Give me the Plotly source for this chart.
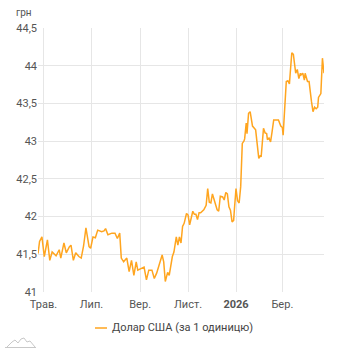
import plotly.graph_objects as go

# ---- data ----
dates_apr25 = ["2025-04-24", "2025-04-26", "2025-04-29"]
vals_apr25 = [41.51, 41.67, 41.73]
dates_may = ["2025-05-02", "2025-05-06", "2025-05-09", "2025-05-12", "2025-05-17", "2025-05-21", "2025-05-23", "2025-05-27", "2025-05-30"]
vals_may = [41.47, 41.69, 41.42, 41.53, 41.48, 41.56, 41.45, 41.65, 41.52]
dates_jun = ["2025-06-03", "2025-06-05", "2025-06-08", "2025-06-11", "2025-06-15", "2025-06-18", "2025-06-21", "2025-06-24", "2025-06-28", "2025-06-30"]
vals_jun = [41.60, 41.62, 41.42, 41.52, 41.47, 41.45, 41.61, 41.85, 41.60, 41.58]
dates_jul = ["2025-07-03", "2025-07-06", "2025-07-09", "2025-07-14", "2025-07-17", "2025-07-19", "2025-07-22", "2025-07-27", "2025-07-31"]
vals_jul = [41.73, 41.72, 41.82, 41.80, 41.81, 41.84, 41.76, 41.78, 41.78]
dates_aug = ["2025-08-03", "2025-08-06", "2025-08-08", "2025-08-11", "2025-08-15", "2025-08-18", "2025-08-21", "2025-08-24", "2025-08-27", "2025-08-29"]
vals_aug = [41.71, 41.78, 41.45, 41.40, 41.45, 41.27, 41.42, 41.22, 41.40, 41.29]
dates_sep = ["2025-09-03", "2025-09-06", "2025-09-09", "2025-09-12", "2025-09-16", "2025-09-19", "2025-09-22", "2025-09-26", "2025-09-29"]
vals_sep = [41.31, 41.33, 41.16, 41.29, 41.29, 41.18, 41.25, 41.38, 41.49]
dates_oct = ["2025-10-01", "2025-10-03", "2025-10-06", "2025-10-08", "2025-10-12", "2025-10-14", "2025-10-17", "2025-10-19", "2025-10-21", "2025-10-23", "2025-10-25", "2025-10-27", "2025-10-30"]
vals_oct = [41.40, 41.14, 41.26, 41.22, 41.47, 41.53, 41.73, 41.62, 41.73, 41.65, 41.87, 41.91, 42.04]
dates_nov = ["2025-11-01", "2025-11-03", "2025-11-05", "2025-11-07", "2025-11-09", "2025-11-11", "2025-11-13", "2025-11-15", "2025-11-17", "2025-11-19", "2025-11-21", "2025-11-24", "2025-11-26", "2025-11-28", "2025-11-30"]
vals_nov = [42.02, 41.89, 41.98, 42.07, 42.03, 42.03, 41.96, 42.05, 42.05, 42.07, 42.09, 42.15, 42.37, 42.19, 42.18]
dates_dec = ["2025-12-02", "2025-12-04", "2025-12-06", "2025-12-08", "2025-12-10", "2025-12-12", "2025-12-15", "2025-12-17", "2025-12-19", "2025-12-21", "2025-12-23", "2025-12-25", "2025-12-27", "2025-12-29", "2025-12-30"]
vals_dec = [42.30, 42.24, 42.18, 42.09, 42.07, 42.27, 42.26, 42.22, 42.32, 42.30, 42.13, 42.08, 41.93, 41.95, 42.10]
dates_jan = ["2026-01-01", "2026-01-03", "2026-01-05", "2026-01-07", "2026-01-08", "2026-01-09", "2026-01-11", "2026-01-12", "2026-01-14", "2026-01-15", "2026-01-17", "2026-01-19", "2026-01-22", "2026-01-24", "2026-01-26", "2026-01-28", "2026-01-30"]
vals_jan = [42.37, 42.21, 42.18, 42.40, 42.64, 42.97, 43.00, 43.03, 43.24, 43.10, 43.37, 43.39, 43.20, 43.17, 43.15, 42.96, 42.77]
dates_feb = ["2026-02-01", "2026-02-02", "2026-02-05", "2026-02-07", "2026-02-09", "2026-02-10", "2026-02-12", "2026-02-14", "2026-02-16", "2026-02-18", "2026-02-21", "2026-02-24", "2026-02-27"]
vals_feb = [42.81, 42.79, 43.17, 43.11, 43.10, 43.02, 43.04, 42.99, 43.13, 43.28, 43.28, 43.28, 43.20]
dates_mar = ["2026-03-01", "2026-03-02", "2026-03-04", "2026-03-06", "2026-03-08", "2026-03-10", "2026-03-11", "2026-03-13", "2026-03-15", "2026-03-17", "2026-03-18", "2026-03-20", "2026-03-22", "2026-03-24", "2026-03-25", "2026-03-27", "2026-03-29", "2026-03-30"]
vals_mar = [43.18, 43.08, 43.41, 43.79, 43.80, 43.76, 43.90, 44.17, 44.15, 44.01, 43.90, 43.95, 43.83, 43.90, 43.88, 43.90, 43.81, 43.90]
dates_apr26 = ["2026-04-02", "2026-04-04", "2026-04-05", "2026-04-07", "2026-04-09", "2026-04-11", "2026-04-13", "2026-04-15", "2026-04-16", "2026-04-19", "2026-04-21", "2026-04-22", "2026-04-23"]
vals_apr26 = [43.79, 43.79, 43.68, 43.53, 43.39, 43.45, 43.43, 43.45, 43.58, 43.63, 44.10, 43.99, 43.90]

dates = (dates_apr25 + dates_may + dates_jun + dates_jul + dates_aug + dates_sep + dates_oct
         + dates_nov + dates_dec + dates_jan + dates_feb + dates_mar + dates_apr26)
usd_uah = (vals_apr25 + vals_may + vals_jun + vals_jul + vals_aug + vals_sep + vals_oct
           + vals_nov + vals_dec + vals_jan + vals_feb + vals_mar + vals_apr26)

series_name = "Долар США (за 1 одиницю)"
x_tick_vals = ["2025-05-01", "2025-07-01", "2025-09-01", "2025-11-01", "2026-01-01", "2026-03-01"]
x_tick_text = ["Трав.", "Лип.", "Вер.", "Лист.", "<b>2026</b>", "Бер."]
y_tick_vals = [41, 41.5, 42, 42.5, 43, 43.5, 44, 44.5]
y_tick_text = ["41", "41,5", "42", "42,5", "43", "43,5", "44", "44,5"]
y_unit = "грн"

# ---- layout geometry ----
W, H = 342, 350
L, R, T, B = 38, 18, 28, 58
PW, PH = W - L - R, H - T - B


def px_x(px):
    return (px - L) / PW


def px_y(py):
    return (H - B - py) / PH


LINE_COLOR = "#FFA51F"
TEXT_COLOR = "#555555"
GRID_COLOR = "#e6e6e6"

fig = go.Figure()
fig.add_trace(go.Scatter(
    x=dates, y=usd_uah, mode="lines", name=series_name,
    line=dict(color=LINE_COLOR, width=1.5),
))

fig.update_layout(
    width=W, height=H,
    margin=dict(l=L, r=R, t=T, b=B),
    plot_bgcolor="white", paper_bgcolor="white",
    showlegend=False,
    font=dict(family="Roboto, Arial, sans-serif", size=11, color=TEXT_COLOR),
    xaxis=dict(
        range=[dates[0], dates[-1]],
        tickmode="array", tickvals=x_tick_vals, ticktext=x_tick_text,
        showgrid=True, gridcolor=GRID_COLOR, gridwidth=1,
        zeroline=False, showline=False, ticks="",
        ticklabelstandoff=4,
        tickfont=dict(size=11, color=TEXT_COLOR),
    ),
    yaxis=dict(
        range=[41, 44.5],
        tickmode="array", tickvals=y_tick_vals, ticktext=y_tick_text,
        showgrid=True, gridcolor=GRID_COLOR, gridwidth=1,
        zeroline=False, showline=False, ticks="",
        tickfont=dict(size=11, color=TEXT_COLOR),
    ),
)

# unit label
fig.add_annotation(
    text=y_unit, xref="paper", yref="paper", x=px_x(14), y=px_y(13),
    xanchor="left", yanchor="middle", showarrow=False,
    font=dict(size=10, color=TEXT_COLOR),
)

# legend (drawn manually to match the short key line)
fig.add_shape(
    type="line", xref="paper", yref="paper",
    x0=px_x(95), x1=px_x(107), y0=px_y(328), y1=px_y(328),
    line=dict(color=LINE_COLOR, width=1.5),
)
fig.add_annotation(
    text=series_name, xref="paper", yref="paper", x=px_x(110), y=px_y(328),
    xanchor="left", yanchor="middle", showarrow=False,
    font=dict(size=11, color="#444444"),
)

# small logo mark in the corner
logo_pts = [(7, 347), (12, 342), (15, 340), (18, 343), (21, 339), (24, 338), (27, 342),
            (30, 341), (35, 347)]
path = "M " + " L ".join(f"{px_x(a):.4f},{px_y(b):.4f}" for a, b in logo_pts)
fig.add_shape(type="path", xref="paper", yref="paper", path=path,
              line=dict(color="#c8c8c8", width=1))
fig.add_shape(type="line", xref="paper", yref="paper",
              x0=px_x(5), x1=px_x(36), y0=px_y(347.5), y1=px_y(347.5),
              line=dict(color="#c8c8c8", width=1))

fig.write_html("out.html")
